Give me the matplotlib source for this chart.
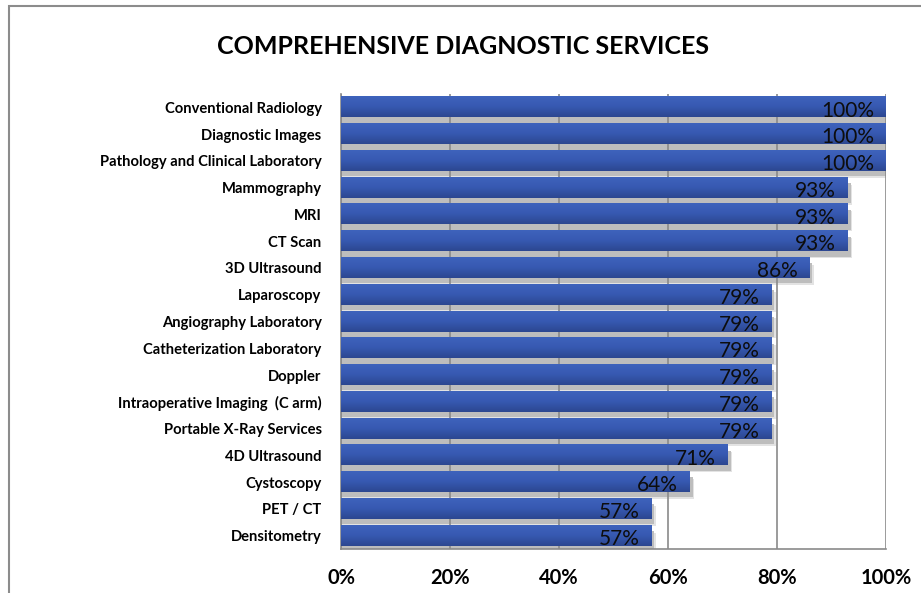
import matplotlib.pyplot as plt
import numpy as np
from matplotlib.patches import Rectangle
from matplotlib.colors import LinearSegmentedColormap

plt.rcParams['font.family'] = ['Lato', 'DejaVu Sans']

categories = [
    "Conventional Radiology",
    "Diagnostic Images",
    "Pathology and Clinical Laboratory",
    "Mammography",
    "MRI",
    "CT Scan",
    "3D Ultrasound",
    "Laparoscopy",
    "Angiography Laboratory",
    "Catheterization Laboratory",
    "Doppler",
    "Intraoperative Imaging  (C arm)",
    "Portable X-Ray Services",
    "4D Ultrasound",
    "Cystoscopy",
    "PET / CT",
    "Densitometry",
]
values = [100, 100, 100, 93, 93, 93, 86, 79, 79, 79, 79, 79, 79, 71, 64, 57, 57]
xticks = [0, 20, 40, 60, 80, 100]

fig = plt.figure(figsize=(9.21, 5.93), dpi=100)
ax = fig.add_axes([341 / 921, 44 / 593, 545 / 921, 455 / 593])

# outer chart frame (left and top visible)
fig.patches.append(Rectangle((9 / 921, -0.1), 1.2, 1.1 - 6 / 593, transform=fig.transFigure,
                             fill=False, edgecolor='#8c8c8c', linewidth=1.5))

blue = LinearSegmentedColormap.from_list('bar', ['#3e63bc', '#3759b1', '#2c4791'])
grad = np.linspace(0, 1, 32).reshape(-1, 1)

h = 0.75
ypos = np.arange(len(categories))
for y, v in zip(ypos, values):
    # soft shadow
    ax.barh(y + 0.2, v + 0.5, height=h, color='#bdbdbd', zorder=1)
    ax.barh(y + 0.26, v + 0.8, height=h, color='#e3e3e3', zorder=0.9)
    # gradient bar
    ax.imshow(grad, cmap=blue, aspect='auto', extent=(0, v, y + h / 2, y - h / 2),
              zorder=3, interpolation='bilinear')
    ax.text(v - 2.2, y + 0.12, f"{v}%", ha='right', va='center', fontsize=15,
            color='#0d0d0d', zorder=4)

ax.set_xlim(0, 100)
ax.set_ylim(len(categories) - 0.5, -0.5)
ax.set_yticks(ypos)
ax.set_yticklabels(categories, fontsize=10.6, fontweight='bold')
ax.set_xticks(xticks)
ax.set_xticklabels([f"{t}%" for t in xticks], fontsize=14.5, fontweight='bold')
ax.tick_params(axis='y', length=0, pad=14)
ax.tick_params(axis='x', length=0, pad=14)
ax.xaxis.grid(True, color='#8a8a8a', linewidth=1.2, zorder=2)
ax.set_axisbelow(False)
for line in ax.get_xgridlines():
    line.set_zorder(2)
for s in ['top', 'right']:
    ax.spines[s].set_visible(False)
for s in ['left', 'bottom']:
    ax.spines[s].set_color('#8a8a8a')
    ax.spines[s].set_linewidth(1.2)

fig.text(463 / 921, 1 - 46 / 593, "COMPREHENSIVE DIAGNOSTIC SERVICES", ha='center', va='center',
         fontsize=18, fontweight='bold')

fig.savefig('out.png', dpi=100)
